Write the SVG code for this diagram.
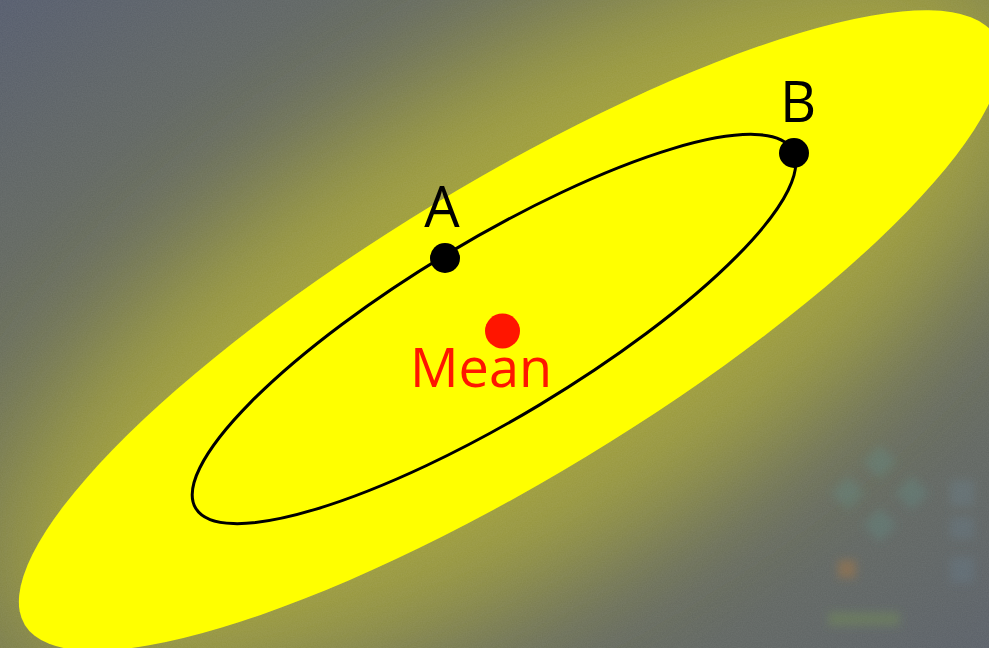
<svg xmlns="http://www.w3.org/2000/svg" width="989" height="648" viewBox="0 0 989 648">
  <defs>
    <linearGradient id="bg" x1="0" y1="0" x2="1" y2="1">
      <stop offset="0" stop-color="#555c6d"/>
      <stop offset="0.45" stop-color="#72754f"/>
      <stop offset="1" stop-color="#5a6068"/>
    </linearGradient>
    <filter id="blur" x="-50%" y="-50%" width="200%" height="200%">
      <feGaussianBlur stdDeviation="60"/>
    </filter>
    <filter id="soft" x="-50%" y="-50%" width="200%" height="200%">
      <feGaussianBlur stdDeviation="4"/>
    </filter>
    <filter id="noise" x="0" y="0" width="100%" height="100%">
      <feTurbulence type="fractalNoise" baseFrequency="0.8" numOctaves="2" seed="3"/>
      <feColorMatrix type="matrix" values="0 0 0 0 1  0 0 0 0 1  0 0 0 0 1  0 0 0 0.08 0"/>
    </filter>
    <style>
      .lbl { font-family: "Open Sans", "Liberation Sans", sans-serif; font-size: 56px; fill: #000; text-anchor: middle; }
      .mean { font-family: "Open Sans", "Liberation Sans", sans-serif; font-size: 54px; fill: #ff1500; text-anchor: middle; }
      .pt { fill: #000; }
      .dia { fill: #5f8e88; opacity: 0.32; }
    </style>
  </defs>

  <!-- background -->
  <rect width="989" height="648" fill="url(#bg)"/>
  <ellipse cx="520" cy="320" rx="590" ry="240" transform="rotate(-31 520 320)" fill="#a6a437" opacity="0.9" filter="url(#blur)"/>
  <rect width="989" height="648" filter="url(#noise)"/>

  <!-- faint background shapes (bottom right) -->
  <g id="bg-shapes" filter="url(#soft)">
    <rect x="868" y="450" width="24" height="24" transform="rotate(45 880 462)" class="dia"/>
    <rect x="836" y="481" width="24" height="24" transform="rotate(45 848 493)" class="dia"/>
    <rect x="900" y="481" width="24" height="24" transform="rotate(45 912 493)" class="dia"/>
    <rect x="868" y="513" width="24" height="24" transform="rotate(45 880 525)" class="dia"/>
    <rect x="838" y="560" width="18" height="18" fill="#b07a40" opacity="0.45"/>
    <rect x="828" y="612" width="72" height="14" fill="#7aa050" opacity="0.3"/>
    <rect x="950" y="480" width="24" height="26" fill="#6a8aa0" opacity="0.25"/>
    <rect x="950" y="517" width="24" height="22" fill="#6a8aa0" opacity="0.22"/>
    <rect x="950" y="557" width="24" height="26" fill="#6a8aa0" opacity="0.22"/>
  </g>

  <!-- big yellow region -->
  <g id="region">
    <ellipse cx="510" cy="330.5" rx="567.5" ry="147.4" transform="rotate(-31.25 510 330.5)" fill="#ffff00"/>
  </g>

  <!-- contour -->
  <g id="contour">
    <ellipse cx="494" cy="329" rx="348" ry="88.5" transform="rotate(-31 494 329)" fill="none" stroke="#000" stroke-width="3"/>
  </g>

  <g id="point-A">
    <circle class="pt" cx="445" cy="258" r="15"/>
    <text class="lbl" x="442" y="227">A</text>
  </g>

  <g id="point-B">
    <circle class="pt" cx="794" cy="153" r="15"/>
    <text class="lbl" x="798" y="122">B</text>
  </g>

  <g id="mean">
    <circle cx="502.5" cy="331" r="17.5" fill="#ff1500"/>
    <text class="mean" x="481" y="387">Mean</text>
  </g>
</svg>
